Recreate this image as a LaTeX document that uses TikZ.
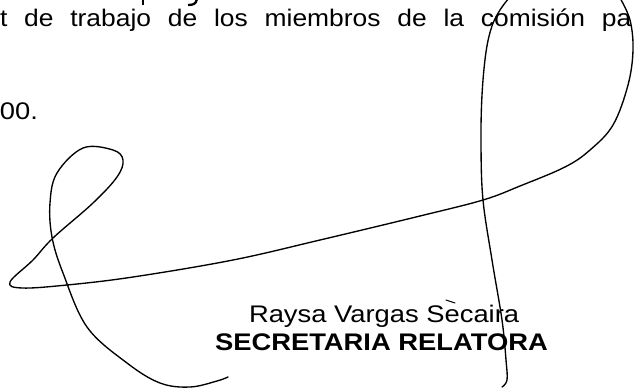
\documentclass[tikz,border=0pt]{standalone}
\usepackage{fontspec}
\usepackage{graphicx}
\setmainfont{Liberation Sans}
\tikzset{
  txt/.style={anchor=base west, inner sep=0pt, outer sep=0pt, text=black},
  pen/.style={draw=black, line width=1.35pt, line cap=round, line join=round},
  ink/.style={draw=black, line width=2.6pt, line cap=butt}
}
\newcommand{\bodyfont}{\fontsize{24}{28}\selectfont}
\newcommand{\wide}[1]{\scalebox{1.1}[1]{#1}}
\newcommand{\widesig}[1]{\scalebox{1.14}[1]{#1}}
\begin{document}
\begin{tikzpicture}[x=1pt, y=-1pt]
\useasboundingbox (0,0) rectangle (634,388);
\fill[white] (0,0) rectangle (634,388);
\begin{scope}
\clip (0,0) rectangle (634,388);
% descender fragments of the cut-off line above
\draw[ink] (143,-1) -- (143,5);
\draw[ink, line width=2.3pt] (197,-1) .. controls (196,4) and (193,5) .. (188,5);
% body text
\node[txt] (line1) at (0,27) {\bodyfont\wide{\makebox[574pt][s]{t de trabajo de los miembros de la comisión pa}}};
\node[txt] (line2) at (0,119) {\bodyfont\widesig{00.}};
% signature block
\node[txt] (name) at (249,322) {\bodyfont\widesig{Raysa Vargas Secaira}};
\node[txt] (role) at (215,350) {\bodyfont\widesig{\bfseries SECRETARIA RELATORA}};
% signature strokes
\draw[pen] plot[smooth, tension=0.6] coordinates {
  (509,-2) (500,10) (492,26) (486,52) (482,95) (481,145) (483,200)
  (492,260) (502,320) (506,360) (507,380) (502,387)};
\draw[pen] plot[smooth, tension=0.6] coordinates {
  (620,-2) (630,20) (633,50) (628,85) (613,125) (590,150) (565,167)
  (520,186) (483,200) (420,216) (320,240) (233,260) (133,277) (67,285)
  (22,288) (10,282) (33,260) (53,238) (93,203) (117,177) (123,160)
  (113,150) (83,148) (57,173) (50,203) (52,237) (63,273) (87,327)
  (127,363) (160,383) (190,387) (217,381) (228,377)};
\draw[pen, line width=1pt] (446,300) -- (455,303);
\end{scope}
\end{tikzpicture}
\end{document}
